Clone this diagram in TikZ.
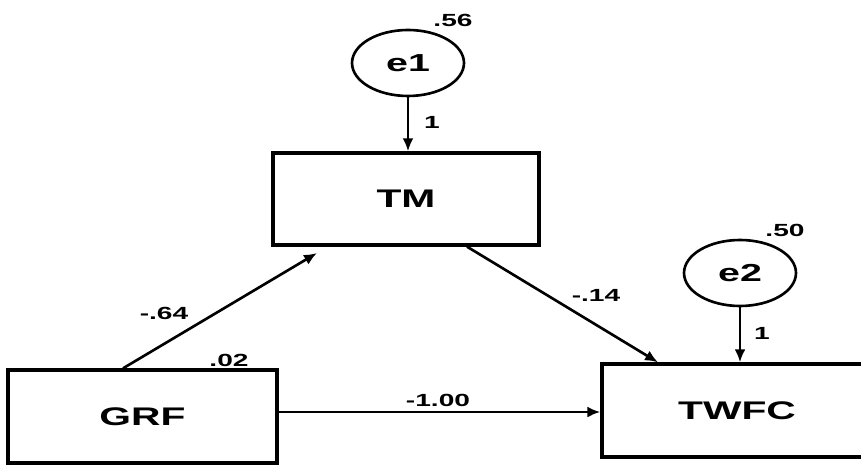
\documentclass[tikz,border=0pt]{standalone}
\usepackage{fontspec}
\setmainfont[FakeStretch=1.6]{Liberation Sans}
\usetikzlibrary{shapes.geometric,arrows.meta,calc}
\begin{document}
\begin{tikzpicture}[x=0.02cm,y=-0.02cm,
  latent/.style={draw,ellipse,line width=1.5pt,minimum width=2.24cm,minimum height=1.32cm,inner sep=0pt,font=\bfseries\fontsize{14}{14}\selectfont},
  obs/.style={draw,rectangle,line width=1.9pt,inner sep=0pt,font=\bfseries\fontsize{14.5}{14.5}\selectfont},
  lbl/.style={inner sep=0pt,font=\bfseries\fontsize{10}{10}\selectfont},
  path/.style={line width=1.5pt,-{Latex[length=0.26cm,width=0.22cm]}}]
\clip (0,0) rectangle (861,465);
\useasboundingbox (0,0) rectangle (861,465);
\node[latent] (e1) at (408,63) {e1};
\node[latent] (e2) at (740,273) {e2};
\node[obs,minimum width=5.32cm,minimum height=1.84cm] (TM) at (406,199) {TM};
\node[obs,minimum width=5.38cm,minimum height=1.86cm] (GRF) at (142.5,416.5) {GRF};
\node[obs,minimum width=5.4cm,minimum height=1.86cm] (TWFC) at (737,410.5) {TWFC};
\coordinate (gtm) at (317,253);
\draw[path] (e1) -- (e1 |- TM.north);
\draw[path] (e2) -- (e2 |- TWFC.north);
\draw[path] ([xshift=-0.39cm]GRF.north) -- (gtm);
\draw[path] ([xshift=1.22cm]TM.south) -- ([xshift=-1.58cm]TWFC.north);
\draw[path] ([yshift=0.09cm]GRF.east) -- ([yshift=0.09cm]TWFC.west |- GRF.east);
\node[lbl] (l56) at (453,20) {.56};
\node[lbl] (l1a) at (432,122) {1};
\node[lbl] (l50) at (785,230) {.50};
\node[lbl] (l1b) at (762,333) {1};
\node[lbl] (l64) at (164,313) {-.64};
\node[lbl] (l02) at (229,360) {.02};
\node[lbl] (l14) at (596,295) {-.14};
\node[lbl] (l100) at (438,400) {-1.00};
\end{tikzpicture}
\end{document}
